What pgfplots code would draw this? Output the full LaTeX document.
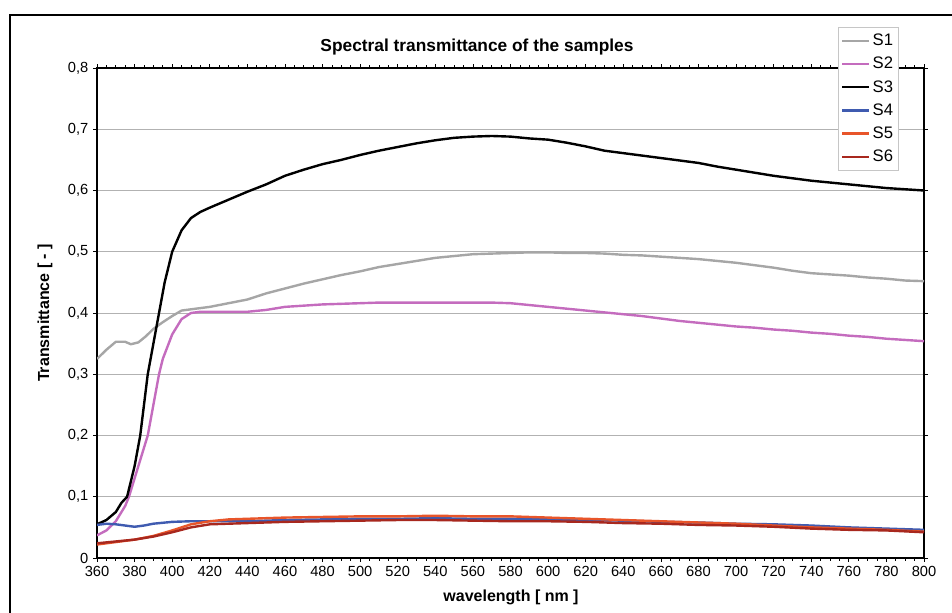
\documentclass[border=0pt]{standalone}
\usepackage{pgfplots}
\pgfplotsset{compat=1.18}
\usepackage{fontspec}
\setmainfont{Liberation Sans}

\definecolor{cS1}{HTML}{A6A6A6}
\definecolor{cS2}{HTML}{C46CBE}
\definecolor{cS3}{HTML}{000000}
\definecolor{cS4}{HTML}{3F5BB0}
\definecolor{cS5}{HTML}{E8552A}
\definecolor{cS6}{HTML}{A8281E}

\begin{document}
\begin{tikzpicture}[x=0.75pt,y=0.75pt]
\useasboundingbox (0,0) rectangle (952,613);
% outer chart frame (cut off on the right and bottom)
\draw[line width=1.6pt] (10,-10) -- (10,598) -- (960,598);
\node[font=\bfseries\fontsize{13}{15}\selectfont] at (477,566) {Spectral transmittance of the samples};
\node[font=\bfseries\fontsize{12}{14}\selectfont, rotate=90] at (45,300) {Transmittance [ - ]};
\node[font=\bfseries\fontsize{12}{14}\selectfont] at (511,16) {wavelength [ nm ]};
\begin{axis}[
    at={(72.75pt,41.25pt)}, anchor=south west,
    scale only axis,
    width=620.25pt, height=367.5pt,
    xmin=360, xmax=800, ymin=0, ymax=0.8,
    xtick={360,380,...,800},
    minor x tick num=3,
    ytick={0,0.1,...,0.8},
    tick align=outside,
    major tick length=3pt, minor tick length=2pt,
    tick style={black, line width=0.5pt},
    axis line style={black, line width=0.8pt},
    ymajorgrids,
    grid style={gray!60, line width=0.6pt},
    ticklabel style={font=\fontsize{11}{13}\selectfont},
    /pgf/number format/assume math mode=true,
    y tick label style={/pgf/number format/.cd, fixed, precision=1, use comma},
    legend style={at={(0.896,1.0837)}, anchor=north west, draw=gray!45,
        fill=white, font=\fontsize{12.5}{14}\selectfont, inner xsep=2pt, inner ysep=3pt,
        row sep=3.2pt},
    legend cell align=left,
    legend image code/.code={\draw[#1] (0pt,0pt) -- (20pt,0pt);},
    every axis plot/.append style={line width=1.8pt, line join=round},
]
\addplot[cS1] coordinates {
(360,0.325) (365,0.340) (370,0.353) (375,0.353) (378,0.349) (382,0.352) (386,0.362) (390,0.374) (395,0.385) (400,0.395) (405,0.404) (410,0.406) (420,0.410) (430,0.416) (440,0.422) (450,0.432) (460,0.440) (470,0.448) (480,0.455) (490,0.462) (500,0.468) (510,0.475) (520,0.480) (530,0.485) (540,0.490) (550,0.493) (560,0.496) (570,0.497) (580,0.498) (590,0.499) (600,0.499) (610,0.498) (620,0.498) (630,0.497) (640,0.495) (650,0.494) (660,0.492) (670,0.490) (680,0.488) (690,0.485) (700,0.482) (710,0.478) (720,0.474) (730,0.469) (740,0.465) (750,0.463) (760,0.461) (770,0.458) (780,0.456) (790,0.453) (800,0.452)};
\addlegendentry{S1}
\addplot[cS2] coordinates {
(360,0.037) (365,0.045) (370,0.060) (375,0.085) (377,0.100) (380,0.130) (385,0.180) (387,0.200) (390,0.250) (393,0.300) (395,0.325) (400,0.365) (405,0.390) (410,0.400) (415,0.402) (420,0.402) (430,0.402) (440,0.402) (450,0.405) (460,0.410) (470,0.412) (480,0.414) (490,0.415) (500,0.416) (510,0.417) (520,0.417) (530,0.417) (540,0.417) (550,0.417) (560,0.417) (570,0.417) (580,0.416) (590,0.413) (600,0.410) (610,0.407) (620,0.404) (630,0.401) (640,0.398) (650,0.395) (660,0.391) (670,0.387) (680,0.384) (690,0.381) (700,0.378) (710,0.376) (720,0.373) (730,0.371) (740,0.368) (750,0.366) (760,0.363) (770,0.361) (780,0.358) (790,0.356) (800,0.354)};
\addlegendentry{S2}
\addplot[cS3] coordinates {
(360,0.055) (365,0.062) (370,0.075) (373,0.090) (376,0.100) (380,0.150) (383,0.200) (385,0.250) (387,0.300) (390,0.350) (393,0.400) (396,0.450) (400,0.500) (405,0.535) (410,0.555) (415,0.565) (420,0.572) (430,0.585) (440,0.598) (450,0.610) (460,0.624) (470,0.634) (480,0.643) (490,0.650) (500,0.658) (510,0.665) (520,0.671) (530,0.677) (540,0.682) (550,0.686) (560,0.688) (570,0.689) (580,0.688) (590,0.685) (600,0.683) (610,0.678) (620,0.672) (630,0.665) (640,0.661) (650,0.657) (660,0.653) (670,0.649) (680,0.645) (690,0.639) (700,0.634) (710,0.629) (720,0.624) (730,0.620) (740,0.616) (750,0.613) (760,0.610) (770,0.607) (780,0.604) (790,0.602) (800,0.600)};
\addlegendentry{S3}
\addplot[cS4] coordinates {
(360,0.054) (365,0.056) (370,0.055) (375,0.053) (380,0.051) (385,0.053) (390,0.056) (400,0.059) (410,0.060) (420,0.060) (440,0.060) (460,0.062) (480,0.063) (500,0.064) (520,0.064) (540,0.065) (560,0.064) (580,0.064) (600,0.063) (620,0.062) (640,0.061) (660,0.059) (680,0.058) (700,0.056) (720,0.055) (740,0.053) (760,0.050) (780,0.048) (800,0.046)};
\addlegendentry{S4}
\addplot[cS5] coordinates {
(360,0.022) (370,0.026) (380,0.030) (390,0.036) (400,0.045) (410,0.055) (420,0.060) (430,0.063) (440,0.064) (460,0.066) (480,0.067) (500,0.068) (520,0.068) (540,0.069) (560,0.068) (580,0.068) (600,0.066) (620,0.064) (640,0.062) (660,0.060) (680,0.058) (700,0.056) (720,0.053) (740,0.050) (760,0.048) (780,0.046) (800,0.043)};
\addlegendentry{S5}
\addplot[cS6] coordinates {
(360,0.024) (370,0.027) (380,0.030) (390,0.035) (400,0.042) (410,0.050) (420,0.055) (440,0.057) (460,0.059) (480,0.060) (500,0.061) (520,0.062) (540,0.062) (560,0.061) (580,0.060) (600,0.060) (620,0.059) (640,0.057) (660,0.056) (680,0.054) (700,0.053) (720,0.051) (740,0.048) (760,0.046) (780,0.045) (800,0.042)};
\addlegendentry{S6}
\end{axis}
\end{tikzpicture}
\end{document}
